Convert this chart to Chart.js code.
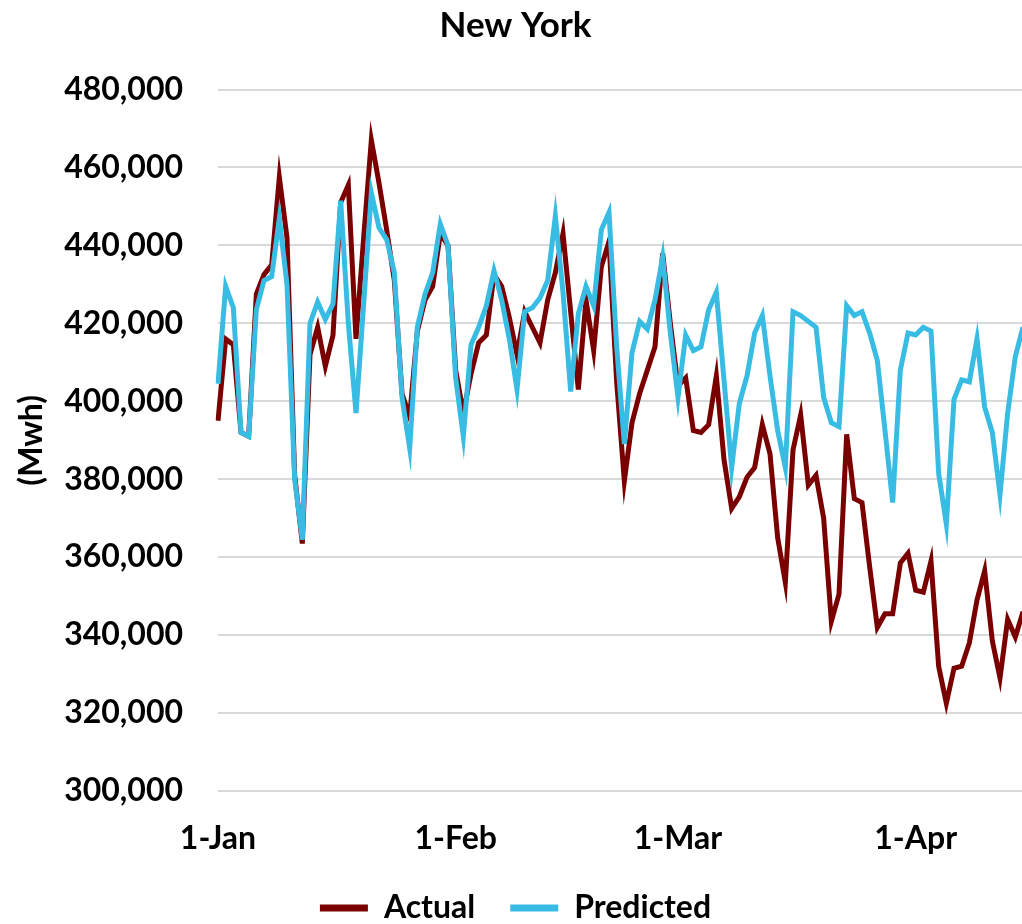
<!DOCTYPE html>
<html>
<head>
<meta charset="utf-8">
<script src="https://cdn.jsdelivr.net/npm/chart.js@4"></script>
<style>
  html, body { margin: 0; padding: 0; background: #fff; overflow: hidden; }
  canvas { display: block; margin-left: -20px; }
</style>
</head>
<body>
<canvas id="myChart" width="1071" height="934"></canvas>
<script>
"use strict"
// Tagesdaten 2020, 1-Jan bis 15-Apr
const monthNames = ['Jan', 'Feb', 'Mar', 'Apr']
const monthDays = [31, 29, 31, 15]
const tickLabels = ['1-Jan', '1-Feb', '1-Mar', '1-Apr']

const actual = [
  395, 416, 414.5, 392, 391, 427.5, 432.5, 435, 457.5, 442,
  381, 363.5, 412, 419, 409, 417, 451, 455.5, 416, 442,
  467, 456, 444, 431, 402, 396, 418, 426, 429.5, 443,
  440, 408, 397, 407, 415, 417, 432.5, 429.5, 421.5, 412,
  423, 419, 415, 426, 433, 443, 423, 403, 426, 413,
  434.5, 441, 405, 379.5, 394.5, 402, 408, 414, 438, 420,
  404, 406, 392.5, 392, 394, 406.5, 385, 372.5, 375.5, 380.5,
  383, 394, 386.5, 365, 353.5, 387.5, 396.5, 378.5, 381, 370,
  343.5, 350.5, 391.5, 375, 374, 357.5, 342, 345.5, 345.5, 358.5,
  361, 351.5, 351, 359, 332, 322.5, 331.5, 332, 338, 349,
  356.5, 338.5, 329, 344, 339.5, 346
].map(v => v * 1000)

const predicted = [
  404.5, 429.5, 424, 392, 391, 423.5, 431, 432, 447, 430,
  380, 364.5, 420, 425.5, 421, 425, 451.5, 420, 397, 425,
  453.5, 444.5, 441.5, 433, 401, 388, 419, 427.5, 433, 445.5,
  440, 406, 391, 414.5, 419, 424.5, 433.5, 426, 416, 403,
  423, 424, 426.5, 431, 447.5, 428, 402.5, 422.5, 429.5, 424.5,
  444, 448.5, 414, 389, 412.5, 420.5, 418.5, 426, 437, 417.5,
  401, 417, 413, 414, 423.5, 428, 405.5, 383, 399.5, 406.5,
  417.5, 422, 406.5, 392.5, 383, 423, 422, 420.5, 419, 401,
  394.5, 393.5, 424.5, 422, 423, 417.5, 410.5, 392.5, 374, 408,
  417.5, 417, 419, 418, 381.5, 368.5, 400.5, 405.5, 405, 416,
  398.5, 392, 376, 397, 411.5, 419
].map(v => v * 1000)

// Kategorien (Tag-Monat)
const categories = []
for (let m = 0; m < monthNames.length; m++) {
  for (let d = 1; d <= monthDays[m]; d++) {
    categories.push(d + '-' + monthNames[m])
  }
}

const fontFamily = 'Lato, "Liberation Sans", sans-serif'
const tickFont = { family: fontFamily, size: 32, weight: 'bold' }

const config = {
  type: 'line',
  data: {
    labels: categories,
    datasets: [{
      label: 'Actual',
      data: actual,
      borderColor: '#7a0000',
      backgroundColor: '#7a0000',
      borderWidth: 5,
      pointRadius: 0,
      tension: 0,
      order: 1
    }, {
      label: 'Predicted',
      data: predicted,
      borderColor: '#38bce3',
      backgroundColor: '#38bce3',
      borderWidth: 5,
      pointRadius: 0,
      tension: 0,
      order: 0 // blau liegt oben
    }]
  },
  options: {
    responsive: false,
    animation: false,
    devicePixelRatio: 1,
    layout: { padding: 0 },
    plugins: {
      title: {
        display: true,
        text: 'New York',
        color: '#000',
        font: { family: fontFamily, size: 35, weight: 'bold' },
        padding: { top: 5, bottom: 42.5 }
      },
      legend: {
        position: 'bottom',
        labels: {
          color: '#000',
          font: tickFont,
          boxWidth: 48,
          boxHeight: 7,
          padding: 35,
          sort: (a, b) => a.datasetIndex - b.datasetIndex,
          generateLabels: (chart) => Chart.defaults.plugins.legend.labels.generateLabels(chart)
            .map(l => Object.assign(l, { lineWidth: 0 }))
        }
      },
      tooltip: { enabled: false }
    },
    scales: {
      x: {
        afterFit: (scale) => { scale.height = 66 },
        grid: { display: false, drawTicks: false },
        border: { display: false },
        ticks: {
          autoSkip: false,
          maxRotation: 0,
          padding: 28,
          color: '#000',
          font: tickFont,
          callback: function (value) {
            const lab = this.getLabelForValue(value)
            return tickLabels.includes(lab) ? lab : ''
          }
        }
      },
      y: {
        min: 300000,
        max: 480000,
        afterFit: (scale) => { scale.width = 238 },
        grid: { color: '#d9d9d9', lineWidth: 2, drawTicks: false },
        border: { display: false },
        title: {
          display: true,
          text: '(Mwh)',
          color: '#000',
          font: tickFont,
          padding: { top: 32, bottom: 0 }
        },
        ticks: {
          stepSize: 20000,
          padding: 35,
          color: '#000',
          font: tickFont,
          callback: (v) => v.toLocaleString('en-US')
        }
      }
    }
  }
}

new Chart(document.getElementById('myChart'), config)
</script>
</body>
</html>
